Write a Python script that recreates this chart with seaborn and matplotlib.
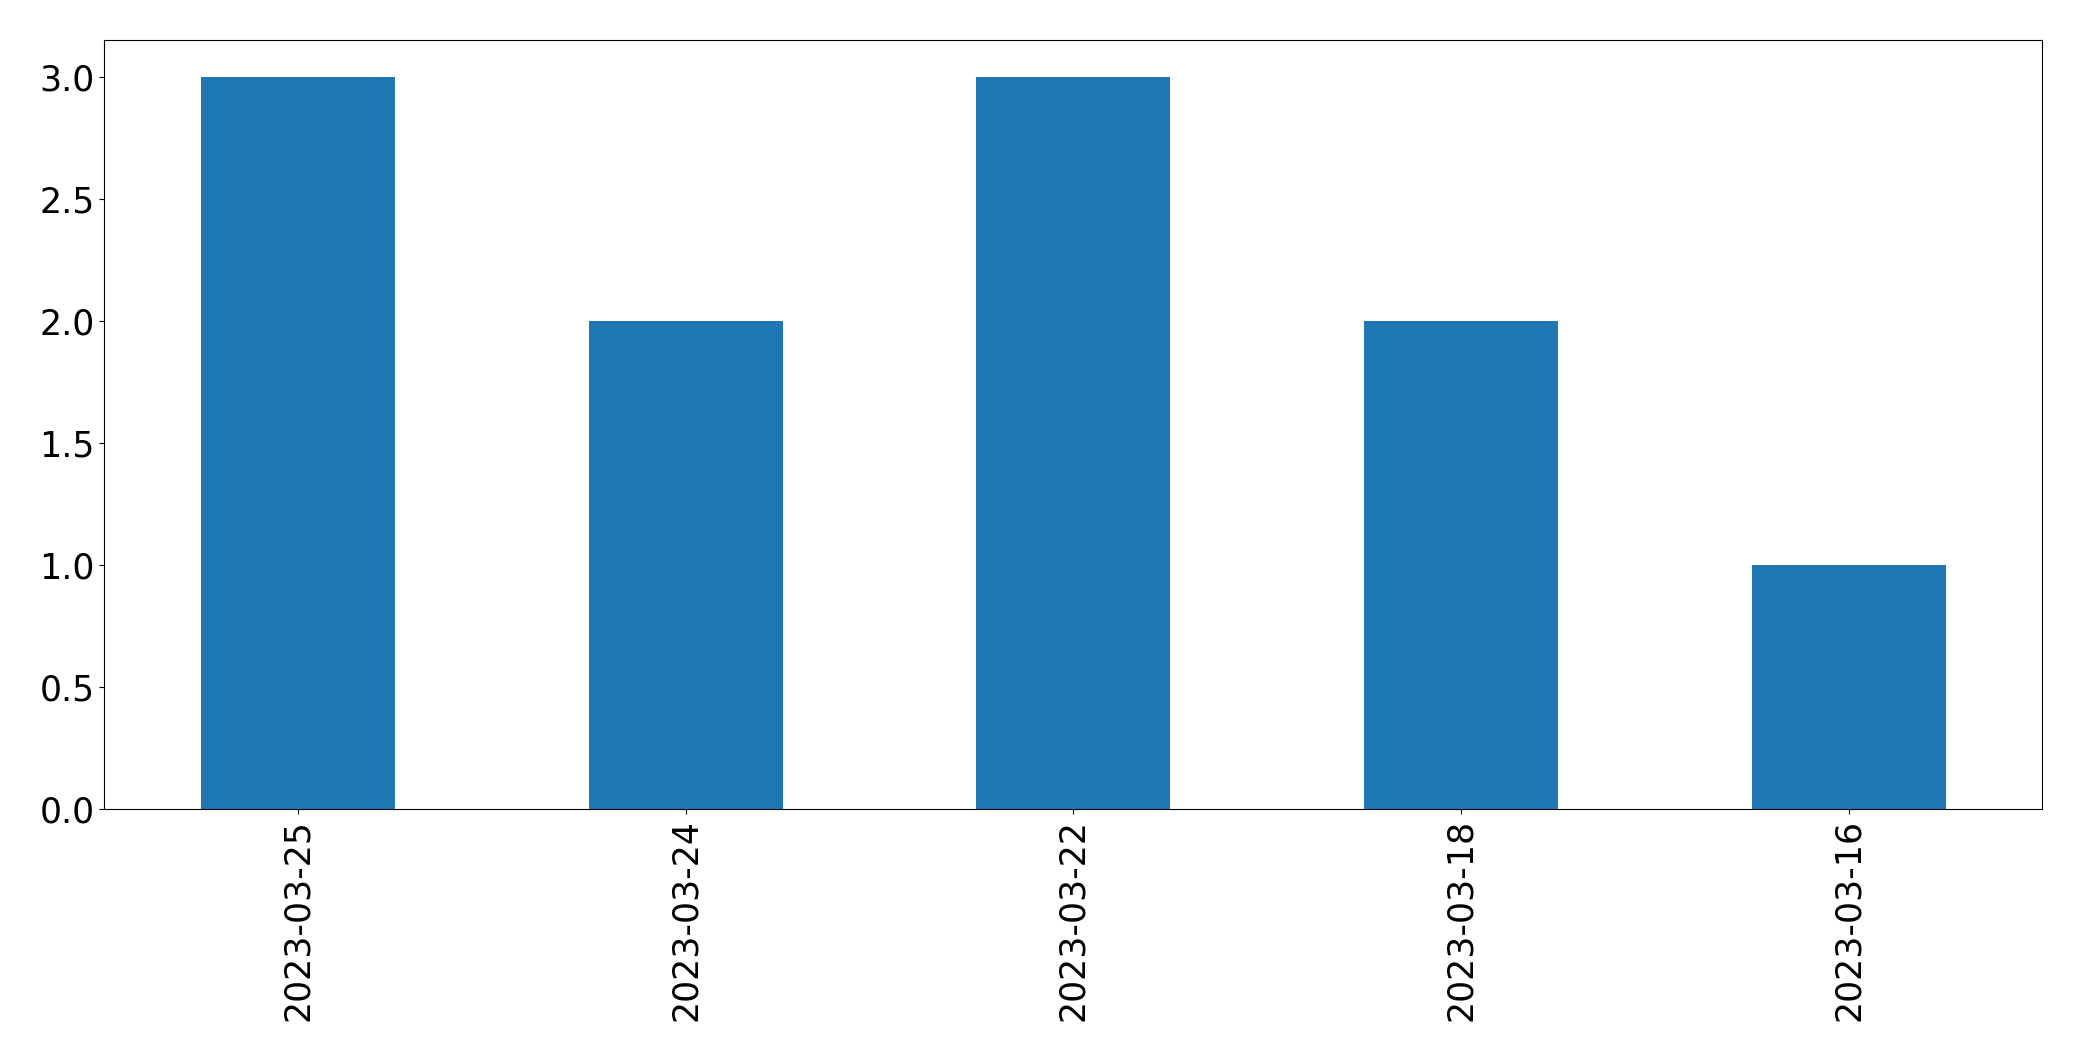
import matplotlib
matplotlib.use("Agg")
import matplotlib.pyplot as plt
import seaborn as sns
import pandas as pd

dates = ["2023-03-25", "2023-03-24", "2023-03-22", "2023-03-18", "2023-03-16"]
counts = [3, 2, 3, 2, 1]

df = pd.DataFrame({"date": dates, "count": counts})

fig, ax = plt.subplots(figsize=(20.82, 10.61), dpi=100)
fig.subplots_adjust(left=0.05, right=0.981, top=0.962, bottom=0.2375)

sns.barplot(data=df, x="date", y="count", order=dates, color="#1f77b4",
            saturation=1, width=0.5, ax=ax)

ax.set_xlim(-0.5, len(dates) - 0.5)
ax.set_ylim(0, max(counts) * 1.05)
ax.set_xlabel("")
ax.set_ylabel("")
ax.tick_params(axis="both", labelsize=25)
plt.setp(ax.get_xticklabels(), rotation=90)
for s in ax.spines.values():
    s.set_color("black")

fig.savefig("out.png", dpi=100)
